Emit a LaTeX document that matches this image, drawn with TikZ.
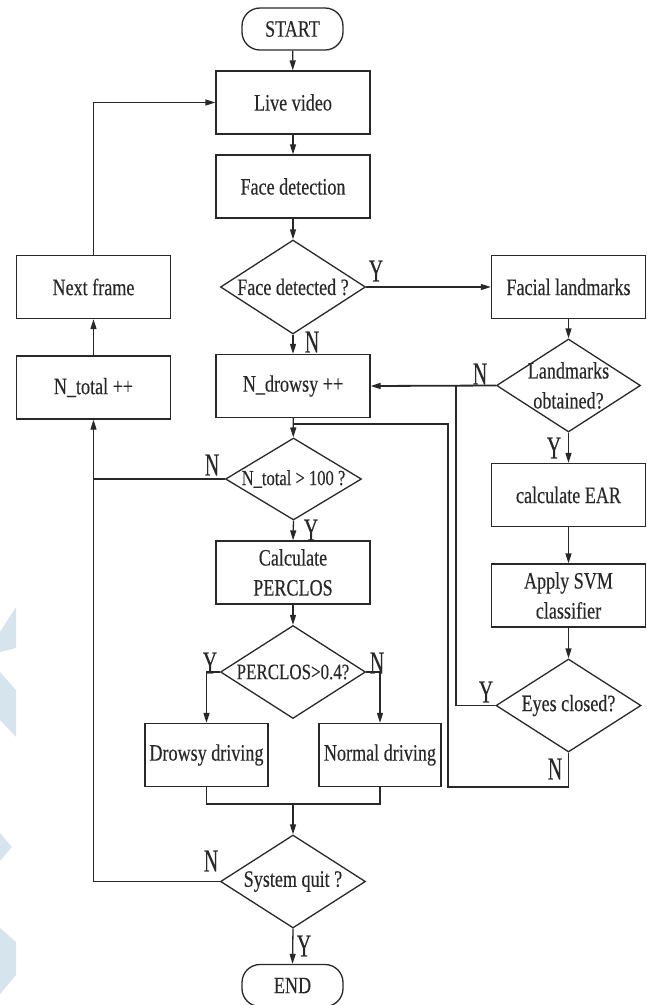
\documentclass[tikz,border=0pt]{standalone}
\usepackage{fontspec}
\setmainfont{Liberation Serif}[FakeStretch=0.77,FakeBold=0.3]
\newfontfamily\lblfont{Liberation Serif}[FakeStretch=0.62,FakeBold=0.3]
\usetikzlibrary{shapes.geometric,arrows.meta}
\definecolor{wmark}{RGB}{214,228,237}
\definecolor{ink}{RGB}{40,40,40}
\begin{document}
\begin{tikzpicture}[x=1pt,y=-1pt,
  line width=1.3pt, draw=ink,
  box/.style={draw=ink, rectangle, minimum width=154pt, minimum height=63pt, inner sep=0pt,
    font=\fontsize{23.5}{30}\selectfont, align=center, text=ink},
  term/.style={draw=ink, rectangle, rounded corners=18pt, minimum width=101pt, minimum height=42pt,
    inner sep=0pt, font=\fontsize{23.5}{30}\selectfont, text=ink},
  dec/.style={draw=ink, diamond, minimum width=145pt, minimum height=94pt, inner sep=0pt},
  dtext/.style={inner sep=0pt, font=\fontsize{23.5}{30}\selectfont, align=center, text=ink},
  lbl/.style={inner sep=0pt, font=\lblfont\fontsize{32}{32}\selectfont, text=ink},
  arr/.style={-{Triangle[length=10pt,width=6pt]}},
]
\useasboundingbox (0,0) rectangle (646,1005);
% pale watermark shapes at the left edge
\fill[wmark] (16,607) -- (16,648) -- (0,652) -- (0,632) -- cycle;
\fill[wmark] (0,672) -- (16,690) -- (16,737) -- (0,720) -- cycle;
\fill[wmark] (0,833) -- (12,847) -- (0,861) -- cycle;
\fill[wmark] (0,928) -- (16,942) -- (16,975) -- (0,994) -- cycle;

% nodes
\node[term] (start) at (292.5,29) {START};
\node[box] (live) at (293,102.5) {Live video};
\node[box] (face) at (293,186.5) {Face detection};
\node[dec] (fdet) at (293,287) {};
\node[dtext] (fdett) at (fdet.center) {Face detected ?};
\node[box] (fland) at (568.5,287) {Facial landmarks};
\node[box] (next) at (93.5,287) {Next frame};
\node[box] (ntotal) at (93.5,387.5) {N\_total ++};
\node[box] (ndrowsy) at (293,386) {N\_drowsy ++};
\node[dec, minimum width=144pt, minimum height=93pt] (lmk) at (568.5,385.5) {};
\node[dtext] (lmkt) at (lmk.center) {Landmarks\\obtained?};
\node[dec, minimum width=136pt, minimum height=82pt] (ntot) at (293.5,479) {};
\node[dtext, font=\fontsize{21.5}{26}\selectfont] (ntott) at (ntot.center) {N\_total > 100 ?};
\node[box] (calc) at (293,572.5) {Calculate\\PERCLOS};
\node[dec, minimum height=93pt] (perc) at (293,672) {};
\node[dtext, font=\fontsize{22}{26}\selectfont] (perct) at (perc.center) {PERCLOS>0.4?};
\node[box, minimum width=123pt] (drowsy) at (206.5,755) {Drowsy driving};
\node[box, minimum width=122pt] (normal) at (380,755) {Normal driving};
\node[dec, minimum height=93pt] (quit) at (293,881.5) {};
\node[dtext] (quitt) at (quit.center) {System quit ?};
\node[term] (end) at (292.5,985.5) {END};
\node[box] (ear) at (568.5,495) {calculate EAR};
\node[box] (svm) at (568.5,595.5) {Apply SVM\\classifier};
\node[dec, minimum height=93pt] (eyes) at (568.5,705.5) {};
\node[dtext] (eyest) at (eyes.center) {Eyes closed?};

% branch labels
\node[lbl] (lY1) at (376,271) {Y};
\node[lbl] (lN1) at (312,342) {N};
\node[lbl] (lN2) at (480,374) {N};
\node[lbl] (lY2) at (554,448) {Y};
\node[lbl] (lN3) at (212,465) {N};
\node[lbl] (lY3) at (311,530) {Y};
\node[lbl] (lY4) at (210,663) {Y};
\node[lbl] (lN4) at (377,663) {N};
\node[lbl] (lY5) at (486,692) {Y};
\node[lbl] (lN5) at (555,769) {N};
\node[lbl] (lN6) at (211,861) {N};
\node[lbl] (lY6) at (304,946) {Y};

% junction coordinates
\coordinate (jY) at (456,385.5);
\coordinate (jN) at (448,787);
\coordinate (jtop) at (293,424);
\coordinate (jleft) at (93.5,479);
\coordinate (merge) at (293,804);

% connectors
\draw[arr] (start) -- (live);
\draw[arr] (live) -- (face);
\draw[arr] (face) -- (fdet);
\draw[arr] (fdet.east) -- (fland.west);
\draw[arr] (fdet.south) -- (ndrowsy.north);
\draw[arr] (fland) -- (lmk);
\draw[arr, line width=1.8pt] (lmk.west) -- (ndrowsy.east);
\draw[arr] (lmk.south) -- (ear.north);
\draw[arr] (ear) -- (svm);
\draw[arr] (svm) -- (eyes);
\draw (eyes.west) -| (jY);
\draw (eyes.south) |- (jN) |- (jtop);
\draw[arr] (ndrowsy) -- (ntot);
\draw[arr] (ntot.south) -- (calc.north);
\draw[arr] (ntot.west) -| (ntotal.south);
\draw[arr] (ntotal) -- (next);
\draw[arr] (next.north) |- (live.west);
\draw[arr] (calc) -- (perc);
\draw[arr] (perc.west) -| (drowsy.north);
\draw[arr] (perc.east) -| (normal.north);
\draw (drowsy.south) |- (merge) -| (normal.south);
\draw[arr] (merge) -- (quit);
\draw (quit.west) -| (jleft);
\draw[arr] (quit.south) -- (end.north);
\end{tikzpicture}
\end{document}
